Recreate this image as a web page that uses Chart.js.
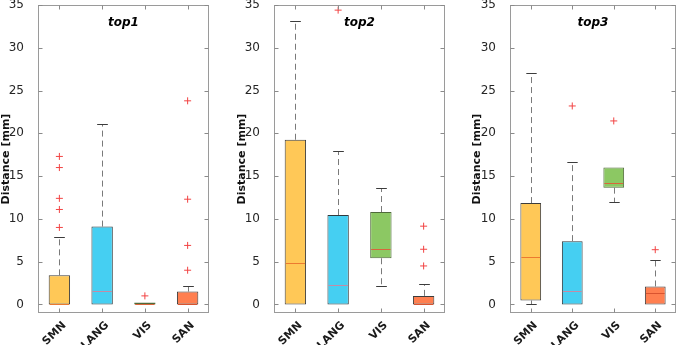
<!DOCTYPE html>
<html><head><meta charset="utf-8">
<script src="https://cdn.jsdelivr.net/npm/chart.js@4.4.0/dist/chart.umd.min.js"></script>
<style>
html,body{margin:0;padding:0;background:#fff;width:681px;height:345px;overflow:hidden}
.p{position:absolute;top:0}
canvas{display:block}
</style></head><body>
<div class="p" style="left:0px"><canvas id="c0" width="225" height="345" style="width:225px;height:345px"></canvas></div>
<div class="p" style="left:225px"><canvas id="c1" width="225" height="345" style="width:225px;height:345px"></canvas></div>
<div class="p" style="left:450px"><canvas id="c2" width="231" height="345" style="width:231px;height:345px"></canvas></div>
<script>
// ---- data ----
const categories = ['SMN', 'LANG', 'VIS', 'SAN'];
const panelTitles = ['top1', 'top2', 'top3'];
const yTickValues = [0, 5, 10, 15, 20, 25, 30, 35];
const yAxisTitle = 'Distance [mm]';

const top1Q1 = [0, 0, 0, 0];
const top1Q3 = [3.4, 9.1, 0.22, 1.5];
const top1Median = [0, 1.6, 0.05, 0];
const top1Low = [0, 0, 0, 0];
const top1High = [7.9, 21.1, 0.22, 2.1];
const top1Outliers = [[9.0, 11.1, 12.4, 16.0, 17.3], [], [1.0], [4.0, 6.9, 12.3, 23.8]];

const top2Q1 = [0, 0, 5.4, 0];
const top2Q3 = [19.25, 10.45, 10.8, 1.0];
const top2Median = [4.9, 2.3, 6.5, 0];
const top2Low = [0, 0, 2.1, 0];
const top2High = [33.1, 17.9, 13.6, 2.35];
const top2Outliers = [[], [34.4], [], [4.5, 6.45, 9.15]];

const top3Q1 = [0.47, 0, 13.65, 0];
const top3Q3 = [11.85, 7.4, 16.0, 2.1];
const top3Median = [5.6, 1.57, 14.2, 1.3];
const top3Low = [0, 0, 12.0, 0];
const top3High = [27.1, 16.65, 16.0, 5.15];
const top3Outliers = [[], [23.2], [21.45], [6.4]];

// ---- styles ----
const boxColors = ['#FFC857', '#45CFF2', '#8CC863', '#FF7F50'];
const boxEdges = ['#3c3c3c', '#2f3a3e', '#4f6a3a', '#3c3c3c'];
const medianColors = ['#EC7A30', '#C48BA6', '#D9663C', '#D9532F'];
const panels = [
  {id: 'c0', title: panelTitles[0], q1: top1Q1, q3: top1Q3, med: top1Median, lo: top1Low, hi: top1High, out: top1Outliers, padLeft: 0, yWidth: 38, padRight: 16},
  {id: 'c1', title: panelTitles[1], q1: top2Q1, q3: top2Q3, med: top2Median, lo: top2Low, hi: top2High, out: top2Outliers, padLeft: 11, yWidth: 38, padRight: 4},
  {id: 'c2', title: panelTitles[2], q1: top3Q1, q3: top3Q3, med: top3Median, lo: top3Low, hi: top3High, out: top3Outliers, padLeft: 21, yWidth: 39, padRight: 2}
];

const FONT = '"DejaVu Sans", Verdana, sans-serif';

function line(ctx, x1, y1, x2, y2) {
  ctx.beginPath(); ctx.moveTo(x1, y1); ctx.lineTo(x2, y2); ctx.stroke();
}

const boxPlugin = {
  id: 'boxplot',
  afterDatasetsDraw(chart) {
    const p = chart.options.plugins.boxplot;
    const {ctx, scales: {x, y}} = chart;
    const meta = chart.getDatasetMeta(0);
    ctx.save();
    categories.forEach((c, i) => {
      const bar = meta.data[i];
      const cx = Math.round(bar.x) + 0.5;
      const hw = bar.width / 2;
      const yq1 = y.getPixelForValue(p.q1[i]);
      const yq3 = y.getPixelForValue(p.q3[i]);
      const yhi = Math.round(y.getPixelForValue(p.hi[i])) + 0.5;
      const ylo = Math.round(y.getPixelForValue(p.lo[i])) + 0.5;
      ctx.lineWidth = 1;
      ctx.strokeStyle = '#7a7a7a';
      ctx.setLineDash([6, 4]);
      if (p.hi[i] > p.q3[i]) line(ctx, cx, yq3, cx, yhi);
      if (p.lo[i] < p.q1[i]) line(ctx, cx, yq1, cx, ylo);
      ctx.setLineDash([]);
      ctx.strokeStyle = '#3c3c3c';
      if (p.hi[i] > p.q3[i]) line(ctx, cx - hw / 2, yhi, cx + hw / 2, yhi);
      if (p.lo[i] < p.q1[i]) line(ctx, cx - hw / 2, ylo, cx + hw / 2, ylo);
      const ym = Math.round(y.getPixelForValue(p.med[i])) + 0.5;
      ctx.strokeStyle = medianColors[i];
      line(ctx, bar.x - hw + 1, ym, bar.x + hw - 1, ym);
    });
    ctx.restore();
  },
  afterDraw(chart) {
    const p = chart.options.plugins.boxplot;
    const {ctx, chartArea: a, scales: {x, y}} = chart;
    ctx.save();
    ctx.strokeStyle = '#9a9a9a';
    ctx.lineWidth = 1;
    const L = Math.round(a.left) + 0.5, R = Math.round(a.right) - 0.5;
    const T = Math.round(a.top) + 0.5, B = Math.round(a.bottom) - 0.5;
    ctx.strokeRect(L, T, R - L, B - T);
    ctx.strokeStyle = '#8a8a8a';
    yTickValues.forEach(v => {
      const yy = Math.round(y.getPixelForValue(v)) + 0.5;
      line(ctx, L, yy, L + 4, yy);
      line(ctx, R, yy, R - 4, yy);
    });
    categories.forEach((c, i) => {
      const xx = Math.round(x.getPixelForValue(i)) + 0.5;
      line(ctx, xx, T, xx, T + 4);
      line(ctx, xx, B, xx, B - 4);
    });
    ctx.fillStyle = '#000';
    ctx.font = 'italic bold 12px ' + FONT;
    ctx.textAlign = 'center';
    ctx.textBaseline = 'middle';
    ctx.fillText(p.title, (a.left + a.right) / 2, a.top + 18);
    ctx.restore();
  }
};

panels.forEach(p => {
  const outlierPoints = p.out.flatMap((arr, i) => arr.map(v => ({x: categories[i], y: v})));
  new Chart(document.getElementById(p.id), {
    type: 'bar',
    data: {
      labels: categories,
      datasets: [
        {
          data: p.q1.map((v, i) => [v, p.q3[i]]),
          backgroundColor: boxColors,
          borderColor: boxEdges,
          borderWidth: 1,
          borderSkipped: false,
          barPercentage: 0.5,
          categoryPercentage: 1
        },
        {
          type: 'line',
          data: outlierPoints,
          showLine: false,
          pointStyle: 'cross',
          pointRadius: 3.5,
          pointBorderWidth: 1,
          borderColor: '#F24444',
          backgroundColor: '#F24444'
        }
      ]
    },
    options: {
      responsive: false,
      animation: false,
      layout: {padding: {left: p.padLeft, right: p.padRight, top: 5, bottom: 0}},
      plugins: {
        legend: {display: false},
        tooltip: {enabled: false},
        boxplot: {title: p.title, q1: p.q1, q3: p.q3, med: p.med, lo: p.lo, hi: p.hi}
      },
      scales: {
        x: {
          type: 'category',
          offset: true,
          grid: {display: false},
          border: {display: false},
          ticks: {
            minRotation: 45, maxRotation: 45, padding: -2, labelOffset: 5,
            color: '#1a1a1a',
            font: {family: FONT, size: 11, weight: 'bold'}
          },
          afterFit(s) { s.height = 32; s.paddingLeft = 0; s.paddingRight = 0; }
        },
        y: {
          min: -1, max: 35,
          grid: {display: false},
          border: {display: false},
          afterBuildTicks(s) { s.ticks = yTickValues.map(v => ({value: v})); },
          ticks: {
            padding: 6,
            color: '#262626',
            font: {family: FONT, size: 12}
          },
          title: {
            display: true, text: yAxisTitle, padding: 0,
            color: '#111',
            font: {family: FONT, size: 11, weight: 'bold'}
          },
          afterFit(s) { s.width = p.yWidth; s.paddingTop = 0; s.paddingBottom = 0; }
        }
      }
    },
    plugins: [boxPlugin]
  });
});
</script>
</body></html>
